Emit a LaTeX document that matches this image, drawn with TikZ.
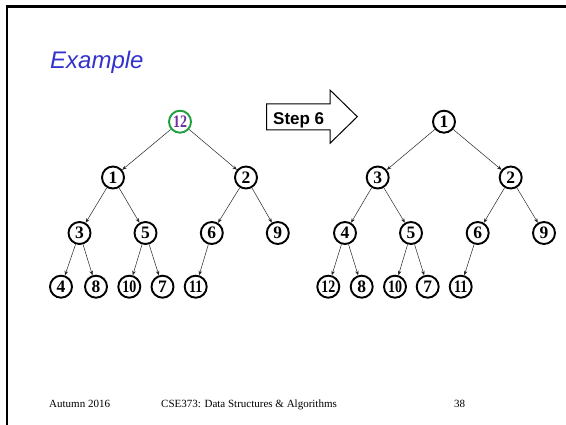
\documentclass[tikz,border=0pt]{standalone}
\usepackage{fontspec}
\usepackage{graphicx}
\setmainfont{Liberation Serif}
\setsansfont{Liberation Sans}
\usetikzlibrary{arrows.meta}
\definecolor{titleblue}{RGB}{51,51,204}
\definecolor{rootgreen}{RGB}{30,160,60}
\definecolor{rootpurple}{RGB}{112,48,160}
\newcommand{\twod}[1]{\scalebox{0.8}[1]{#1}}
\begin{document}
\begin{tikzpicture}[x=1pt,y=-1pt,
  hn/.style={circle,draw=black,line width=1.9pt,minimum size=22pt,inner sep=0pt,
    font=\fontsize{17.5}{17.5}\selectfont\bfseries},
  edge/.style={line width=0.5pt,draw=black!85,-{Stealth[length=4.5pt,width=3.5pt]}},
  foot/.style={font=\fontsize{11}{11}\selectfont,anchor=base west,inner sep=0pt}]
\useasboundingbox (0,0) rectangle (566,425);
\fill[white] (0,0) rectangle (566,425);
% slide frame
\draw[line width=2.5pt,line join=miter] (7,425) -- (7,6.5) -- (566,6.5);
% title
\node[anchor=base west,inner sep=0pt,text=titleblue,
  font=\sffamily\itshape\fontsize{24}{24}\selectfont] (title) at (50,68.3) {Example};
% left tree
\node[hn,draw=rootgreen,text=rootpurple] (L12) at (180,121.7) {\twod{12}};
\node[hn] (L1) at (113,177.5) {1};
\node[hn] (L2) at (246,177.5) {2};
\node[hn] (L3) at (79.5,233) {3};
\node[hn] (L5) at (145.5,233) {5};
\node[hn] (L6) at (211.8,233) {6};
\node[hn] (L9) at (277.8,233) {9};
\node[hn] (L4) at (61,286.7) {4};
\node[hn] (L8) at (96,286.7) {8};
\node[hn] (L10) at (129.3,286.7) {\twod{10}};
\node[hn] (L7) at (162.5,286.7) {7};
\node[hn] (L11) at (195.7,286.7) {\twod{11}};
\draw[edge] (L12) -- (L1);
\draw[edge] (L12) -- (L2);
\draw[edge] (L1) -- (L3);
\draw[edge] (L1) -- (L5);
\draw[edge] (L2) -- (L6);
\draw[edge] (L2) -- (L9);
\draw[edge] (L3) -- (L4);
\draw[edge] (L3) -- (L8);
\draw[edge] (L5) -- (L10);
\draw[edge] (L5) -- (L7);
\draw[edge] (L6) -- (L11);
% block arrow
\draw[line width=1pt,fill=white,line join=miter]
  (266.7,104) -- (330,104) -- (330,90) -- (357.3,116.7) -- (330,143.3)
  -- (330,130) -- (266.7,130) -- cycle;
\node[anchor=base west,inner sep=0pt,font=\sffamily\bfseries\fontsize{17}{17}\selectfont]
  (steptxt) at (273,125) {Step 6};
% right tree
\node[hn] (R1) at (444,121.7) {1};
\node[hn] (R3) at (377.7,177.5) {3};
\node[hn] (R2) at (510.7,177.5) {2};
\node[hn] (R4) at (345,233) {4};
\node[hn] (R5) at (411,233) {5};
\node[hn] (R6) at (477.7,233) {6};
\node[hn] (R9) at (544,233) {9};
\node[hn] (R12) at (328.3,286.7) {\twod{12}};
\node[hn] (R8) at (361.7,286.7) {8};
\node[hn] (R10) at (395,286.7) {\twod{10}};
\node[hn] (R7) at (427.7,286.7) {7};
\node[hn] (R11) at (460.7,286.7) {\twod{11}};
\draw[edge] (R1) -- (R3);
\draw[edge] (R1) -- (R2);
\draw[edge] (R3) -- (R4);
\draw[edge] (R3) -- (R5);
\draw[edge] (R2) -- (R6);
\draw[edge] (R2) -- (R9);
\draw[edge] (R4) -- (R12);
\draw[edge] (R4) -- (R8);
\draw[edge] (R5) -- (R10);
\draw[edge] (R5) -- (R7);
\draw[edge] (R6) -- (R11);
% footer
\node[foot] (f1) at (49,408) {Autumn 2016};
\node[foot] (f2) at (161,408) {CSE373: Data Structures \& Algorithms};
\node[foot] (f3) at (454,408) {38};
\end{tikzpicture}
\end{document}
